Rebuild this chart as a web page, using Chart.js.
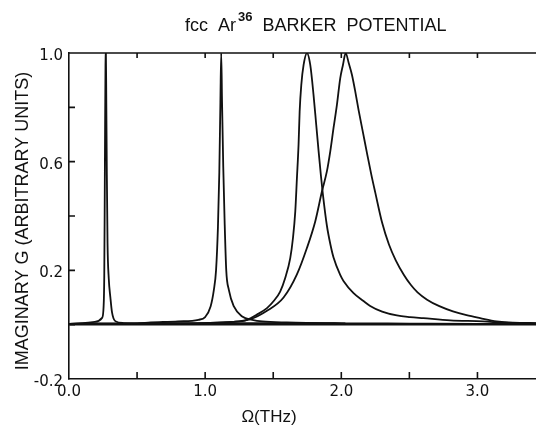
<!DOCTYPE html>
<html>
<head>
<meta charset="utf-8">
<script src="https://cdn.jsdelivr.net/npm/chart.js@4"></script>
<style>
  html, body { margin: 0; padding: 0; background: #fff; }
  #wrap { width: 536px; height: 426px; position: relative; }
</style>
</head>
<body>
<div id="wrap"><canvas id="c" width="536" height="426"></canvas></div>
<script>
// Imaginary part of the phonon Green's function, fcc Ar36 (Barker potential)
// Each curve: frequency in THz and normalised amplitude.
const freqA = [0.00, 0.10, 0.19, 0.243, 0.254, 0.259, 0.262, 0.265, 0.268, 0.271, 0.274, 0.278, 0.283, 0.292, 0.304, 0.316, 0.340, 0.40, 0.60, 0.90, 1.20, 1.50, 1.80, 2.03];
const valA  = [0.003, 0.006, 0.010, 0.025, 0.065, 0.18, 0.42, 0.72, 0.95, 1.00, 0.82, 0.55, 0.30, 0.17, 0.10, 0.045, 0.013, 0.006, 0.005, 0.005, 0.006, 0.006, 0.006, 0.005];

const freqB = [0.00, 0.30, 0.50, 0.60, 0.80, 0.95, 1.00, 1.040, 1.064, 1.080, 1.094, 1.104, 1.112, 1.118, 1.124, 1.133, 1.143, 1.155, 1.174, 1.211, 1.272, 1.346, 1.42, 1.60, 2.00, 2.50, 3.00, 3.43];
const valB  = [0.003, 0.004, 0.005, 0.008, 0.012, 0.018, 0.028, 0.067, 0.128, 0.20, 0.36, 0.56, 0.82, 1.00, 0.82, 0.58, 0.38, 0.20, 0.128, 0.067, 0.030, 0.018, 0.012, 0.008, 0.005, 0.004, 0.003, 0.003];

const freqC = [0.00, 0.50, 1.00, 1.20, 1.307, 1.380, 1.454, 1.502, 1.551, 1.588, 1.625, 1.645, 1.662, 1.674, 1.686, 1.694, 1.706, 1.723, 1.748, 1.772, 1.796, 1.816, 1.833, 1.850, 1.865, 1.894, 1.920, 1.943, 1.992, 2.016, 2.090, 2.163, 2.212, 2.300, 2.408, 2.505, 2.603, 2.800, 3.040, 3.200, 3.43];
const valC  = [0.003, 0.004, 0.006, 0.010, 0.018, 0.037, 0.061, 0.086, 0.122, 0.172, 0.245, 0.319, 0.417, 0.539, 0.662, 0.784, 0.882, 0.956, 1.000, 0.956, 0.846, 0.735, 0.640, 0.550, 0.479, 0.365, 0.295, 0.247, 0.183, 0.161, 0.116, 0.087, 0.069, 0.048, 0.034, 0.028, 0.024, 0.016, 0.012, 0.007, 0.005];

const freqD = [0.00, 0.50, 1.00, 1.20, 1.332, 1.454, 1.576, 1.674, 1.748, 1.809, 1.858, 1.894, 1.919, 1.943, 1.968, 1.992, 2.012, 2.032, 2.056, 2.078, 2.100, 2.127, 2.160, 2.190, 2.220, 2.250, 2.300, 2.350, 2.400, 2.460, 2.510, 2.560, 2.630, 2.720, 2.820, 2.920, 3.020, 3.140, 3.260, 3.43];
const valD  = [0.003, 0.004, 0.006, 0.010, 0.020, 0.051, 0.100, 0.185, 0.283, 0.381, 0.491, 0.564, 0.638, 0.724, 0.810, 0.907, 0.956, 1.000, 0.960, 0.920, 0.865, 0.790, 0.705, 0.628, 0.553, 0.485, 0.375, 0.295, 0.237, 0.183, 0.147, 0.119, 0.092, 0.068, 0.049, 0.035, 0.024, 0.012, 0.007, 0.006];

// Axis ticks and their labels
const xTickValues = [0, 0.5, 1.0, 1.5, 2.0, 2.5, 3.0];
const xTickText   = ['0.0', '', '1.0', '', '2.0', '', '3.0'];
const yTickValues = [-0.2, 0, 0.2, 0.4, 0.6, 0.8, 1.0];
const yTickText   = ['-0.2', '', '0.2', '', '0.6', '', '1.0'];

const xRange = [0, 3.43];
const yRange = [-0.2, 1.0];

const INK = '#111';
const FONT = "'Liberation Sans', Arial, sans-serif";
const TICK_FONT = "'DejaVu Sans', sans-serif";

function pairs(xs, ys) { return xs.map((x, i) => ({ x: x, y: ys[i] })); }

function curve(xs, ys) {
  return {
    data: pairs(xs, ys),
    borderColor: INK,
    borderWidth: 1.8,
    pointRadius: 0,
    fill: false,
    cubicInterpolationMode: 'monotone'
  };
}

// Frame, inward tick marks and the titles
const framePlugin = {
  id: 'frame',
  afterDatasetsDraw(chart) {
    const { ctx, chartArea: a, scales: { x, y } } = chart;
    ctx.save();
    ctx.strokeStyle = INK;
    ctx.lineWidth = 1.6;
    ctx.beginPath();
    ctx.moveTo(a.left, a.top);
    ctx.lineTo(a.right, a.top);
    xTickValues.forEach(v => {
      if (v <= xRange[0]) return;
      const px = x.getPixelForValue(v);
      ctx.moveTo(px, a.bottom); ctx.lineTo(px, a.bottom - 7);
      ctx.moveTo(px, a.top);    ctx.lineTo(px, a.top + 5);
    });
    yTickValues.forEach(v => {
      if (v <= yRange[0] || v >= yRange[1]) return;
      const py = y.getPixelForValue(v);
      ctx.moveTo(a.left, py); ctx.lineTo(a.left + 6, py);
    });
    ctx.stroke();

    ctx.fillStyle = INK;
    ctx.textBaseline = 'alphabetic';
    ctx.textAlign = 'left';
    // Title with superscript mass number
    let tx = 185;
    const base = 31;
    ctx.font = '18px ' + FONT;
    ctx.fillText('fcc  Ar', tx, base);
    tx += ctx.measureText('fcc  Ar').width + 2;
    ctx.font = 'bold 13px ' + FONT;
    ctx.fillText('36', tx, base - 10);
    tx += ctx.measureText('36').width;
    ctx.font = '18px ' + FONT;
    ctx.fillText('  BARKER  POTENTIAL', tx, base);

    // x axis title
    ctx.textAlign = 'center';
    ctx.font = '17px ' + FONT;
    ctx.fillText('\u03A9(THz)', 269, 422);

    // y axis title
    ctx.save();
    ctx.translate(27.5, 221);
    ctx.rotate(-Math.PI / 2);
    ctx.font = '18px ' + FONT;
    ctx.fillText('IMAGINARY G (ARBITRARY UNITS)', 0, 0);
    ctx.restore();
    ctx.restore();
  }
};

new Chart(document.getElementById('c'), {
  type: 'line',
  data: {
    datasets: [curve(freqA, valA), curve(freqB, valB), curve(freqC, valC), curve(freqD, valD)]
  },
  options: {
    responsive: false,
    animation: false,
    layout: { padding: { top: 53, right: 0, bottom: 0, left: 0 } },
    plugins: { legend: { display: false }, tooltip: { enabled: false }, title: { display: false } },
    scales: {
      x: {
        type: 'linear',
        min: xRange[0],
        max: xRange[1],
        afterBuildTicks: s => { s.ticks = xTickValues.map(v => ({ value: v })); },
        afterFit: s => { s.height = 47; },
        grid: { display: false, drawTicks: false },
        border: { display: true, color: INK, width: 1.6 },
        ticks: {
          autoSkip: false,
          maxRotation: 0,
          padding: 4,
          color: INK,
          font: { family: TICK_FONT, size: 15 },
          callback: (v, i) => xTickText[i]
        }
      },
      y: {
        type: 'linear',
        min: yRange[0],
        max: yRange[1],
        afterBuildTicks: s => { s.ticks = yTickValues.map(v => ({ value: v })); },
        afterFit: s => { s.width = 69; },
        grid: {
          drawTicks: false,
          lineWidth: 1.6,
          color: c => (c.tick && Math.abs(c.tick.value) < 1e-9) ? INK : 'rgba(0,0,0,0)'
        },
        border: { display: true, color: INK, width: 1.6 },
        ticks: {
          autoSkip: false,
          padding: 6,
          labelOffset: 3,
          color: INK,
          font: { family: TICK_FONT, size: 15 },
          callback: (v, i) => yTickText[i]
        }
      }
    }
  },
  plugins: [framePlugin]
});
</script>
</body>
</html>
